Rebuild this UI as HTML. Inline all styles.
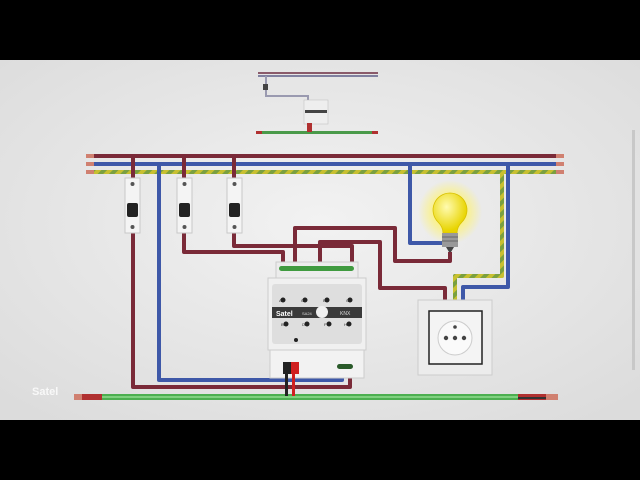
<!DOCTYPE html>
<html><head><style>
html,body{margin:0;padding:0;background:#000;}
svg{display:block;font-family:"Liberation Sans",sans-serif;}
</style></head><body>
<svg width="640" height="480" viewBox="0 0 640 480" xmlns="http://www.w3.org/2000/svg">
<defs>
<radialGradient id="bg" cx="0.5" cy="0.45" r="0.7"><stop offset="0" stop-color="#f2f2f2"/><stop offset="1" stop-color="#dcdcdc"/></radialGradient>
<radialGradient id="glow" cx="0.5" cy="0.5" r="0.5"><stop offset="0.4" stop-color="#fff36a" stop-opacity="0.9"/><stop offset="1" stop-color="#fff36a" stop-opacity="0"/></radialGradient>
<radialGradient id="bulb" cx="0.4" cy="0.35" r="0.6"><stop offset="0" stop-color="#fffbb0"/><stop offset="1" stop-color="#e8d400"/></radialGradient>
<pattern id="yg" width="8" height="8" patternUnits="userSpaceOnUse" patternTransform="rotate(45)"><rect width="8" height="8" fill="#c8c030"/><rect width="4" height="8" fill="#7aa040"/></pattern>
</defs>
<rect x="0" y="60" width="640" height="360" fill="url(#bg)"/>

<!-- mini diagram -->
<g>
<rect x="258" y="72" width="120" height="2" fill="#8a5a6a"/>
<rect x="258" y="75" width="120" height="2" fill="#8080a0"/>
<path d="M266 76 V96 H308 V102" fill="none" stroke="#9a9ab0" stroke-width="2"/>
<rect x="263" y="84" width="5" height="6" fill="#444"/>
<rect x="304" y="100" width="24" height="24" fill="#eee" stroke="#bbb" stroke-width="0.5"/>
<rect x="305" y="110" width="22" height="3" fill="#444"/>
<rect x="256" y="131" width="122" height="3" fill="#4a9a4a"/>
<rect x="256" y="131" width="6" height="3" fill="#b03030"/><rect x="372" y="131" width="6" height="3" fill="#b03030"/>
<rect x="307" y="123" width="5" height="9" fill="#b03030"/>
</g>

<!-- bus lines -->
<g stroke-width="4" fill="none" stroke-linecap="butt">
<line x1="88" y1="156" x2="562" y2="156" stroke="#7a2a38"/>
<line x1="88" y1="164" x2="562" y2="164" stroke="#3e58a8"/>
<line x1="88" y1="172" x2="562" y2="172" stroke="url(#yg)"/>
</g>
<g fill="#d08070"><rect x="86" y="154" width="8" height="4"/><rect x="86" y="162" width="8" height="4"/><rect x="86" y="170" width="8" height="4"/>
<rect x="556" y="154" width="8" height="4"/><rect x="556" y="162" width="8" height="4"/><rect x="556" y="170" width="8" height="4"/></g>

<!-- wires -->
<g fill="none" stroke-width="4" stroke-linejoin="round">
<path d="M159 164 V380 H342 V376" stroke="#3e58a8"/>
<path d="M133 156 V180 M133 232 V387 H350 V376" stroke="#7a2a38"/>
<path d="M184 156 V180 M234 156 V180" stroke="#7a2a38"/>
<path d="M184 232 V252 H283 V262" stroke="#7a2a38"/>
<path d="M234 232 V246 H352 V262" stroke="#7a2a38"/>
<path d="M295 262 V228 H395 V261 H450 V252" stroke="#7a2a38"/>
<path d="M320 262 V242 H380 V288 H445 V302" stroke="#7a2a38"/>
<path d="M410 164 V243 H445" stroke="#3e58a8"/>
<path d="M508 164 V287 H463 V302" stroke="#3e58a8"/>
<path d="M502 172 V276 H455 V302" stroke="url(#yg)"/>
</g>

<!-- breakers -->
<g>
<g transform="translate(125,178)"><rect width="15" height="55" fill="#f4f4f4" stroke="#c8c8c8"/><rect x="2" y="25" width="11" height="14" rx="2" fill="#222"/><circle cx="7.5" cy="6" r="2" fill="#555"/><circle cx="7.5" cy="49" r="2" fill="#555"/></g>
<g transform="translate(177,178)"><rect width="15" height="55" fill="#f4f4f4" stroke="#c8c8c8"/><rect x="2" y="25" width="11" height="14" rx="2" fill="#222"/><circle cx="7.5" cy="6" r="2" fill="#555"/><circle cx="7.5" cy="49" r="2" fill="#555"/></g>
<g transform="translate(227,178)"><rect width="15" height="55" fill="#f4f4f4" stroke="#c8c8c8"/><rect x="2" y="25" width="11" height="14" rx="2" fill="#222"/><circle cx="7.5" cy="6" r="2" fill="#555"/><circle cx="7.5" cy="49" r="2" fill="#555"/></g>
</g>

<!-- lamp -->
<circle cx="450" cy="212" r="32" fill="url(#glow)"/>
<path d="M450 193 a17 17 0 0 1 12 29 q-5 5 -5 11 h-14 q0 -6 -5 -11 a17 17 0 0 1 12 -29z" fill="url(#bulb)" stroke="#d8c000" stroke-width="0.8"/>
<rect x="442" y="233" width="16" height="14" fill="#999"/>
<line x1="442" y1="237" x2="458" y2="237" stroke="#666"/><line x1="442" y1="241" x2="458" y2="241" stroke="#666"/>
<path d="M446 247 h8 l-3 5 h-2z" fill="#444"/>

<!-- ground bus -->
<rect x="100" y="394" width="420" height="6" fill="#4caf50"/>
<rect x="100" y="396" width="420" height="2" fill="#7fd07f"/>
<rect x="80" y="394" width="22" height="6" fill="#b03030"/><rect x="74" y="394" width="8" height="6" fill="#d08070"/>
<rect x="518" y="394" width="30" height="6" fill="#b03030"/><rect x="518" y="397" width="30" height="2" fill="#333"/><rect x="546" y="394" width="12" height="6" fill="#d08070"/>

<!-- module -->
<g>
<rect x="276" y="262" width="82" height="18" fill="#ececec" stroke="#ccc"/>
<rect x="279" y="266" width="75" height="5" rx="2.5" fill="#3f9a3f"/>
<rect x="268" y="278" width="98" height="72" fill="#f0f0f0" stroke="#ccc"/>
<rect x="272" y="284" width="90" height="60" rx="3" fill="#dedede"/>
<rect x="272" y="307" width="90" height="11" fill="#3a3a3a"/>
<text x="276" y="316" font-size="7" font-weight="bold" fill="#fff">Satel</text>
<text x="302" y="315" font-size="4" fill="#ddd">SA24</text>
<circle cx="322" cy="312" r="6" fill="#f0f0f0"/>
<text x="340" y="315" font-size="5" fill="#ddd">KNX</text>
<g fill="#222"><circle cx="283" cy="300" r="2.5"/><circle cx="305" cy="300" r="2.5"/><circle cx="327" cy="300" r="2.5"/><circle cx="350" cy="300" r="2.5"/>
<circle cx="286" cy="324" r="2.5"/><circle cx="307" cy="324" r="2.5"/><circle cx="329" cy="324" r="2.5"/><circle cx="349" cy="324" r="2.5"/><circle cx="296" cy="340" r="2"/></g>
<g font-size="4" fill="#333"><text x="279" y="302">A</text><text x="301" y="302">C</text><text x="323" y="302">E</text><text x="346" y="302">G</text>
<text x="281" y="326">B</text><text x="302" y="326">D</text><text x="324" y="326">F</text><text x="344" y="326">H</text></g>
<rect x="270" y="350" width="94" height="28" fill="#f2f2f2" stroke="#ccc"/>
<rect x="337" y="364" width="16" height="5" rx="2.5" fill="#2a5a2a"/>
<rect x="283" y="362" width="8" height="12" fill="#222"/><rect x="291" y="362" width="8" height="12" fill="#d02020"/>
<rect x="285" y="374" width="3" height="22" fill="#222"/><rect x="292" y="374" width="3" height="22" fill="#d02020"/>
</g>

<!-- socket -->
<rect x="418" y="300" width="74" height="75" fill="#ececec" stroke="#ccc"/>
<rect x="429" y="311" width="53" height="53" fill="#f4f4f4" stroke="#222" stroke-width="1.5"/>
<circle cx="455" cy="338" r="17" fill="#fafafa" stroke="#ccc"/>
<g fill="#444"><circle cx="455" cy="327" r="1.8"/><circle cx="446" cy="338" r="2.2"/><circle cx="455" cy="338" r="2.2"/><circle cx="464" cy="338" r="2.2"/></g>

<!-- watermark -->
<text x="32" y="395" font-size="11" font-weight="bold" fill="#fff" opacity="0.8">Satel</text>
<rect x="632" y="130" width="3" height="240" fill="#c8c8c8"/>
</svg>
</body></html>
